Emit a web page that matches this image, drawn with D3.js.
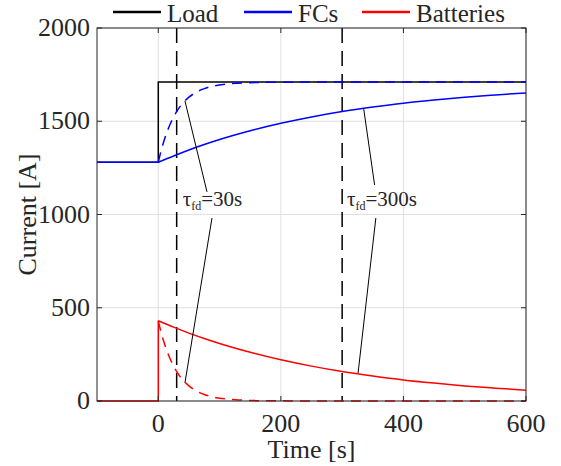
<!DOCTYPE html>
<html>
<head>
<meta charset="utf-8">
<script src="https://cdn.jsdelivr.net/npm/d3@7"></script>
<style>
  body { margin: 0; background: #fff; }
  text { font-family: "Liberation Serif", serif; fill: #262626; }
</style>
</head>
<body>
<div id="chart"></div>
<script>
// load step
const loadTime = [-100, 0, 0, 600];
const loadCurrent = [1280, 1280, 1710, 1710];

// before the step (shared by both time constants)
const preTime = [-100, 0];
const preFC = [1280, 1280];
const preBatTime = [-100, 0, 0];
const preBat = [0, 0, 430];

// tau_fd = 300 s (solid)
const slowTime = [0, 25, 50, 75, 100, 150, 200, 250, 300, 350, 400, 450, 500, 550, 600];
const slowFC = [1280, 1314, 1346, 1375, 1402, 1449, 1489, 1523, 1552, 1576, 1597, 1614, 1629, 1641, 1652];
const slowBat = [430, 396, 364, 335, 308, 261, 221, 187, 158, 134, 113, 96, 81, 69, 58];

// tau_fd = 30 s (dashed)
const fastTime = [0, 5, 10, 15, 20, 25, 30, 40, 50, 60, 75, 90, 110, 130, 160, 200, 250, 300, 400, 500, 600];
const fastFC = [1280, 1346, 1402, 1449, 1489, 1523, 1552, 1597, 1629, 1652, 1675, 1689, 1699, 1704, 1708, 1709, 1710, 1710, 1710, 1710, 1710];
const fastBat = [430, 364, 308, 261, 221, 187, 158, 113, 81, 58, 35, 21, 11, 6, 2, 1, 0, 0, 0, 0, 0];

const markerTimes = [30, 300];
const xTicks = [0, 200, 400, 600];
const yTicks = [0, 500, 1000, 1500, 2000];

const legendNames = ["Load", "FCs", "Batteries"];
const legendColors = ["#000000", "#0000ff", "#ff0000"];

// annotation: text anchor and leader lines, in data units
const notes = [
  { sub: "fd", rest: "=30s", at: [40, 1045],
    lines: [[[43.5, 1609], [79.5, 1121]], [[87.6, 981], [43.5, 97]]] },
  { sub: "fd", rest: "=300s", at: [308, 1045],
    lines: [[[335, 1571], [353, 1158]], [[355, 981], [326, 150]]] }
];

const width = 561, height = 466;
const plotL = 97, plotR = 526, plotT = 28, plotB = 401;
const fontSize = "26px";

const svg = d3.select("#chart").append("svg")
  .attr("width", width)
  .attr("height", height);

const x = d3.scaleLinear().domain([-100, 600]).range([plotL, plotR]);
const y = d3.scaleLinear().domain([0, 2000]).range([plotB, plotT]);

// grid
svg.append("g").selectAll("line").data(xTicks).join("line")
  .attr("x1", d => x(d)).attr("x2", d => x(d))
  .attr("y1", plotT).attr("y2", plotB)
  .attr("stroke", "#e0e0e0").attr("stroke-width", 1);
svg.append("g").selectAll("line").data(yTicks).join("line")
  .attr("x1", plotL).attr("x2", plotR)
  .attr("y1", d => y(d)).attr("y2", d => y(d))
  .attr("stroke", "#e0e0e0").attr("stroke-width", 1);

// vertical markers
svg.append("g").selectAll("line").data(markerTimes).join("line")
  .attr("x1", d => x(d)).attr("x2", d => x(d))
  .attr("y1", plotT).attr("y2", plotB)
  .attr("stroke", "#000").attr("stroke-width", 1.5)
  .attr("stroke-dasharray", "15,8");

function zip(ts, vs) { return ts.map((t, i) => [t, vs[i]]); }

const linear = d3.line().x(d => x(d[0])).y(d => y(d[1]));
const smooth = d3.line().x(d => x(d[0])).y(d => y(d[1])).curve(d3.curveMonotoneX);

function drawPath(pts, gen, color, dash) {
  svg.append("path")
    .attr("d", gen(pts))
    .attr("fill", "none")
    .attr("stroke", color)
    .attr("stroke-width", 1.5)
    .attr("stroke-dasharray", dash || null);
}

drawPath(zip(loadTime, loadCurrent), linear, "#000");
drawPath(zip(preTime, preFC), linear, "#0000ff");
drawPath(zip(slowTime, slowFC), smooth, "#0000ff");
drawPath(zip(preBatTime, preBat), linear, "#ff0000");
drawPath(zip(slowTime, slowBat), smooth, "#ff0000");
drawPath(zip(fastTime, fastFC), smooth, "#0000ff", "10,7");
drawPath(zip(fastTime, fastBat), smooth, "#ff0000", "10,7");

// axes box with inward ticks
const axisColor = "#262626";
svg.append("rect")
  .attr("x", plotL).attr("y", plotT)
  .attr("width", plotR - plotL).attr("height", plotB - plotT)
  .attr("fill", "none").attr("stroke", axisColor).attr("stroke-width", 1);

const tickLen = 5;
xTicks.forEach(t => {
  svg.append("line").attr("x1", x(t)).attr("x2", x(t)).attr("y1", plotB).attr("y2", plotB - tickLen).attr("stroke", axisColor);
  svg.append("line").attr("x1", x(t)).attr("x2", x(t)).attr("y1", plotT).attr("y2", plotT + tickLen).attr("stroke", axisColor);
});
yTicks.forEach(v => {
  svg.append("line").attr("x1", plotL).attr("x2", plotL + tickLen).attr("y1", y(v)).attr("y2", y(v)).attr("stroke", axisColor);
  svg.append("line").attr("x1", plotR).attr("x2", plotR - tickLen).attr("y1", y(v)).attr("y2", y(v)).attr("stroke", axisColor);
});

svg.append("g").selectAll("text").data(xTicks).join("text")
  .attr("x", d => x(d)).attr("y", plotB + 31)
  .attr("text-anchor", "middle")
  .style("font-size", fontSize)
  .text(d => d);
svg.append("g").selectAll("text").data(yTicks).join("text")
  .attr("x", plotL - 7).attr("y", d => y(d) + 8)
  .attr("text-anchor", "end")
  .style("font-size", fontSize)
  .text(d => d);

svg.append("text")
  .attr("x", (plotL + plotR) / 2).attr("y", 458)
  .attr("text-anchor", "middle")
  .style("font-size", fontSize)
  .text("Time [s]");
svg.append("text")
  .attr("transform", `translate(36, ${(plotT + plotB) / 2}) rotate(-90)`)
  .attr("text-anchor", "middle")
  .style("font-size", fontSize)
  .text("Current [A]");

// annotations
notes.forEach(n => {
  n.lines.forEach(seg => {
    svg.append("line")
      .attr("x1", x(seg[0][0])).attr("y1", y(seg[0][1]))
      .attr("x2", x(seg[1][0])).attr("y2", y(seg[1][1]))
      .attr("stroke", "#000").attr("stroke-width", 1);
  });
  const t = svg.append("text")
    .attr("x", x(n.at[0])).attr("y", y(n.at[1]))
    .style("font-size", "21px");
  t.append("tspan").text("τ");
  t.append("tspan").attr("dy", 4).style("font-size", "12px").text(n.sub);
  t.append("tspan").attr("dy", -4).text(n.rest);
});

// legend
const legendX = [113, 244, 362];
legendNames.forEach((name, i) => {
  svg.append("line")
    .attr("x1", legendX[i]).attr("x2", legendX[i] + 48)
    .attr("y1", 12).attr("y2", 12)
    .attr("stroke", legendColors[i]).attr("stroke-width", 2.5);
  svg.append("text")
    .attr("x", legendX[i] + 54).attr("y", 22)
    .style("font-size", "25px")
    .text(name);
});
</script>
</body>
</html>
